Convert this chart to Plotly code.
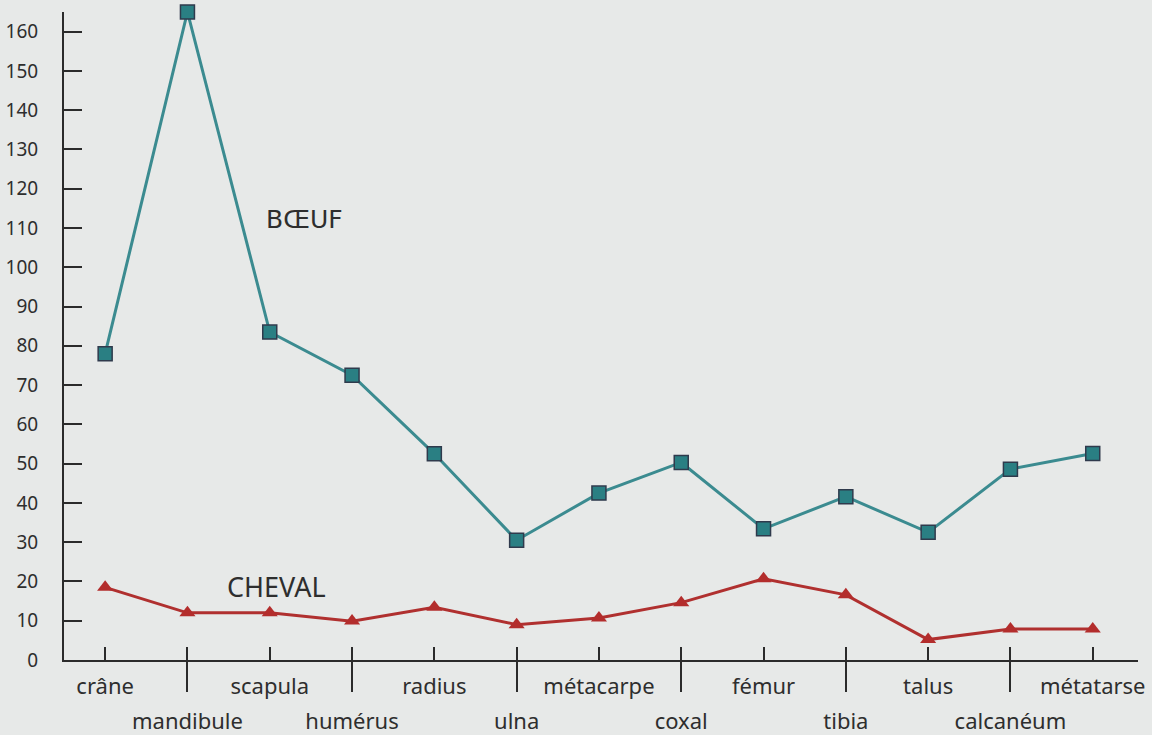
import plotly.graph_objects as go

categories = ["crâne", "mandibule", "scapula", "humérus", "radius", "ulna",
              "métacarpe", "coxal", "fémur", "tibia", "talus", "calcanéum", "métatarse"]
boeuf = [78, 165, 83.5, 72.5, 52.5, 30.5, 42.5, 50.3, 33.4, 41.6, 32.5, 48.6, 52.6]
cheval = [18.5, 12.0, 12.0, 9.9, 13.4, 9.0, 10.7, 14.6, 20.7, 16.6, 5.2, 7.9, 7.9]
y_ticks = list(range(0, 170, 10))

idx = list(range(len(categories)))
even_text = [c if i % 2 == 0 else "" for i, c in enumerate(categories)]
odd_idx = [i for i in idx if i % 2 == 1]
odd_text = [categories[i] for i in odd_idx]

BG = "#e7e9e8"
TXT = "#2e2e2e"
AX = "#2b2b2b"

fig = go.Figure()
fig.add_trace(go.Scatter(
    x=idx, y=boeuf, mode="lines+markers", name="BŒUF",
    line=dict(color="#3b8b90", width=3),
    marker=dict(symbol="square", size=14, color="#2a7f83",
                line=dict(color="#2f3a4c", width=1.5)),
    cliponaxis=False, xaxis="x", yaxis="y"))
fig.add_trace(go.Scatter(
    x=idx, y=cheval, mode="lines+markers", name="CHEVAL",
    line=dict(color="#b0302f", width=3),
    marker=dict(symbol="triangle-up", size=14, color="#b32d2c",
                line=dict(color="#b32d2c", width=0)),
    cliponaxis=False, xaxis="x2", yaxis="y"))

xr = [-0.5, 12.55]
fig.update_layout(
    width=1152, height=735, autosize=False,
    margin=dict(l=64, r=14, t=12, b=75),
    paper_bgcolor=BG, plot_bgcolor=BG,
    showlegend=False,
    font=dict(family="Noto Sans", color=TXT),
    xaxis=dict(range=xr, tickmode="array", tickvals=idx, ticktext=even_text,
               ticks="inside", ticklen=13, tickwidth=1.5, tickcolor=AX,
               showline=True, linecolor=AX, linewidth=2, showgrid=False,
               zeroline=False, tickfont=dict(size=22, color=TXT),
               ticklabelstandoff=6, automargin=False),
    xaxis2=dict(range=xr, overlaying="x", side="bottom", tickmode="array",
                tickvals=odd_idx, ticktext=odd_text,
                ticks="outside", ticklen=31, tickwidth=1.5, tickcolor=AX,
                showline=False, showgrid=False, zeroline=False,
                tickfont=dict(size=22, color=TXT), ticklabelstandoff=11,
                automargin=False),
    yaxis=dict(range=[0, 165], tickmode="array", tickvals=y_ticks,
               ticks="inside", ticklen=18, tickwidth=1.5, tickcolor=AX,
               showline=True, linecolor=AX, linewidth=2, showgrid=False,
               zeroline=False, tickfont=dict(size=19, color=TXT),
               ticklabelstandoff=20, automargin=False),
    annotations=[
        dict(x=2.42, y=112.2, xref="x", yref="y", text="BŒUF", showarrow=False,
             font=dict(family="DejaVu Sans", size=25, color=TXT)),
        dict(x=2.08, y=18.7, xref="x", yref="y", text="CHEVAL", showarrow=False,
             font=dict(family="Noto Sans", size=27, color=TXT)),
    ],
)

post = ("document.body.style.margin='0';"
        "document.body.style.background='" + BG + "';"
        "document.body.style.overflow='hidden';"
        "var gd=document.getElementById('{plot_id}');"
        "Plotly.relayout(gd,{width:1152,height:735});")
fig.write_html("out.html", post_script=post,
               config={"responsive": False, "displayModeBar": False})
